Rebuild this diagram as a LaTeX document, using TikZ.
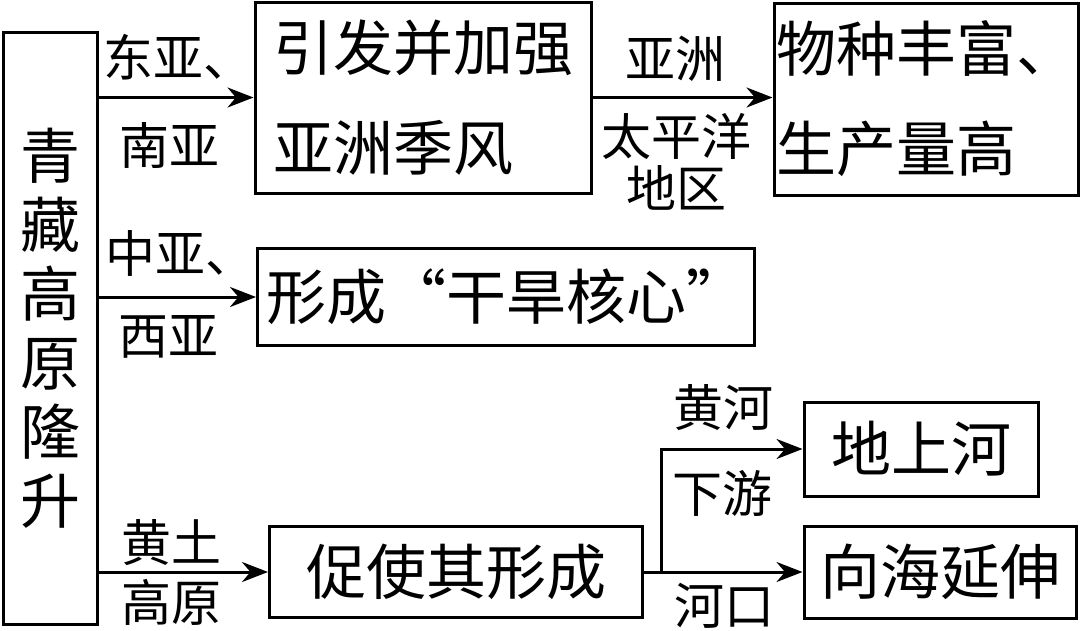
\documentclass[tikz,border=0pt]{standalone}
\usepackage{fontspec}
\setmainfont{Noto Sans CJK SC}
\usepackage{tikz}
\usetikzlibrary{arrows.meta, positioning, calc}
\tikzstyle{box} = [rectangle, draw=black, line width=3pt, inner sep=0pt, text centered, font=\fontsize{60}{100}\selectfont]
\tikzstyle{route} = [inner sep=0pt, font=\fontsize{50}{50}\selectfont]
\tikzstyle{arrow} = [line width=3pt, -{Stealth[length=26pt,width=20pt]}]

\begin{document}
\begin{tikzpicture}[x=1pt, y=-1pt]
\useasboundingbox (0,0) rectangle (1080,630);

\node (rise) [box, minimum width=94pt, minimum height=592pt, align=center, font=\fontsize{60}{69}\selectfont] at (50,328) {青\\藏\\高\\原\\隆\\升};

\node (monsoon) [box, minimum width=336pt, minimum height=191pt, align=left] at (423,97.5) {引发并加强\\亚洲季风};
\node (species) [box, minimum width=304pt, minimum height=192pt, align=left] at (926,99) {物种丰富、\\生产量高};
\node (drought) [box, minimum width=497pt, minimum height=97pt] at (506,297) {形成“干旱核心”};
\node (loess) [box, minimum width=373pt, minimum height=91pt] at (456,572) {促使其形成};
\node (above) [box, minimum width=234pt, minimum height=94pt] at (921,449) {地上河};
\node (delta) [box, minimum width=272pt, minimum height=92pt] at (940,572) {向海延伸};

% labels on the connectors
\node (eastasia) [route] at (178,57) {东亚、};
\node (southasia) [route] at (169,145) {南亚};
\node (centralasia) [route] at (180,253) {中亚、};
\node (westasia) [route] at (168,337) {西亚};
\node (loessname) [route] at (171,543) {黄土};
\node (plateau) [route] at (171,602) {高原};
\node (asia) [route] at (675,59) {亚洲};
\node (pacific) [route] at (676,136) {太平洋};
\node (region) [route] at (676,188) {地区};
\node (river) [route] at (723,408) {黄河};
\node (lower) [route] at (722,493) {下游};
\node (mouth) [route] at (724,606) {河口};

\draw [arrow] (rise.east |- monsoon.west) -- (monsoon.west);
\draw [arrow] (rise.east |- drought.west) -- (drought.west);
\draw [arrow] (rise.east |- loess.west) -- (loess.west);
\draw [arrow] (monsoon.east) -- (monsoon.east -| species.west);
\coordinate (fork) at ($(loess.east)+(17,0)$);
\draw [arrow] (loess.east) -- (fork) |- (above.west);
\draw [arrow] (fork) -- (fork -| delta.west);

\end{tikzpicture}
\end{document}
